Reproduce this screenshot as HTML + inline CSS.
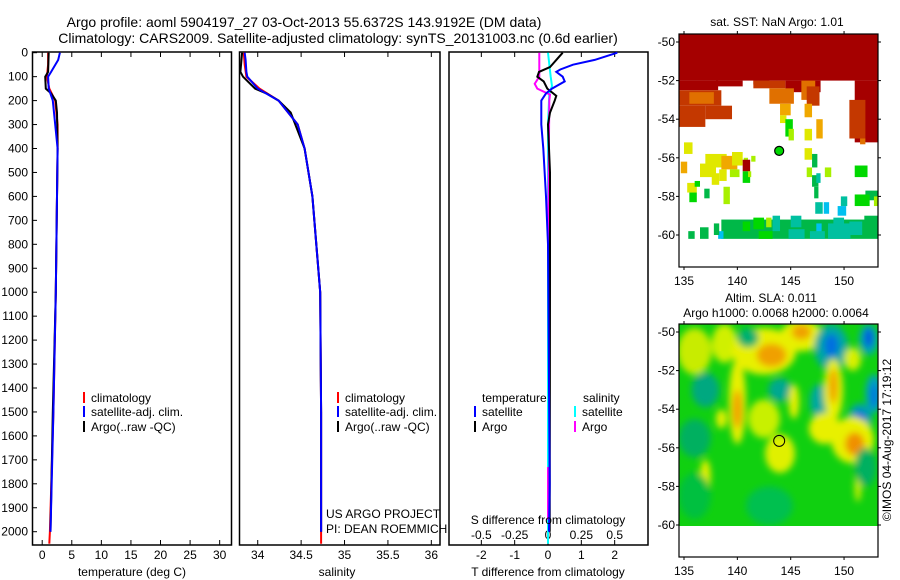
<!DOCTYPE html>
<html><head><meta charset="utf-8">
<style>
html,body{margin:0;padding:0;background:#fff;}
svg{display:block;font-family:"Liberation Sans",sans-serif;font-size:12px;}
</style></head>
<body>
<svg id="c" width="900" height="580" viewBox="0 0 900 580" xmlns="http://www.w3.org/2000/svg">
<defs>
<filter id="blur" x="-50%" y="-50%" width="200%" height="200%"><feGaussianBlur stdDeviation="3.5"/></filter>
<clipPath id="slaClip"><rect x="679" y="324" width="199" height="202"/></clipPath>
</defs>
<text x="304" y="27" text-anchor="middle" style="font-size:14px">Argo profile: aoml 5904197_27 03-Oct-2013 55.6372S 143.9192E (DM data)</text>
<text x="338" y="43" text-anchor="middle" style="font-size:14px">Climatology: CARS2009. Satellite-adjusted climatology: synTS_20131003.nc (0.6d earlier)</text>
<g id="panels"></g>
<g id="maps"></g>
<text transform="translate(891,440) rotate(-90)" text-anchor="middle">©IMOS 04-Aug-2017 17:19:12</text>
</svg>
<script>
// ---------- profile data ----------
const depthTicks = [0,100,200,300,400,500,600,700,800,900,1000,1100,1200,1300,1400,1500,1600,1700,1800,1900,2000];
const tTicks = [0,5,10,15,20,25,30];
const sTicks = [34,34.5,35,35.5,36];
const dTTicks = [-2,-1,0,1,2];
const dSTicks = [-0.5,-0.25,0,0.25,0.5];
const dSTickLabels = ["-0.5","-0.25","0","0.25","0.5"];

const climDepth = [0,50,100,150,200,300,400,600,1000,1500,2000,2050];
const climTemp  = [1.0,1.0,0.8,1.2,2.2,2.6,2.6,2.5,2.3,1.9,1.3,1.2];
const climSal   = [33.84,33.85,33.87,34.02,34.24,34.46,34.54,34.63,34.72,34.73,34.73,34.73];

const argoDepth = [0,80,100,150,170,200,250,400,600,1000,1500,2000];
const argoTemp  = [1.1,1.0,0.5,0.6,1.5,2.3,2.5,2.6,2.5,2.3,1.8,1.4];
const argoSal   = [33.82,33.80,33.83,33.97,34.10,34.24,34.38,34.54,34.63,34.72,34.73,34.73];

const satDepth = [0,30,80,100,150,200,300,400,600,1000,1500,2000];
const satTemp  = [3.0,2.7,1.5,1.0,1.1,1.8,2.2,2.6,2.5,2.3,1.9,1.4];
const satSal   = [33.85,33.86,33.87,33.88,34.0,34.24,34.46,34.54,34.63,34.72,34.73,34.73];

const dTsatDepth = [0,30,50,70,80,100,120,150,170,200,300,400,600,800,1800,2000];
const dTsat      = [2.08,1.4,0.75,0.37,0.25,0.44,0.5,0.12,-0.06,-0.2,-0.2,-0.14,-0.06,0,0.05,0.03];
const dTargoDepth = [0,30,60,80,100,120,150,180,200,250,300,500,900,2000];
const dTargo      = [0.44,0.25,0.06,-0.27,-0.32,-0.13,-0.02,0.25,0.2,0.06,0,0.06,0.06,0.05];
const dSsatDepth = [0,100,140,170,300,2050];
const dSsat      = [0,0.02,0.03,0.01,0,0];
const dSargoDepth = [0,100,130,150,175,200,820];
const dSargo      = [-0.065,-0.065,-0.1,-0.08,0.015,0.01,0];
const dSargoDepth2 = [1730,1950];
const dSargo2      = [0,0];

// ---------- helpers ----------
const NS="http://www.w3.org/2000/svg";
function mk(tag,attrs,parent){const e=document.createElementNS(NS,tag);for(const k in attrs)e.setAttribute(k,attrs[k]);parent.appendChild(e);return e;}
const yD = d => 52.7 + 0.2395*d;
const P = document.getElementById('panels');

function panel(name,x0,x1,vmin,vmax){
  const g=mk('g',{},P);
  
  
  const r=mk('rect',{x:x0,y:52,width:x1-x0,height:493,fill:'none',stroke:'#000','stroke-width':1.5},g);
  
  
  return {g, sx:v=>x0+(v-vmin)/(vmax-vmin)*(x1-x0)};
}
function line(p,vals,depths,color,name){
  const pts=vals.map((v,i)=>p.sx(v).toFixed(1)+','+yD(depths[i]).toFixed(1)).join(' ');
  const l=mk('polyline',{points:pts,fill:'none',stroke:color,'stroke-width':2},p.g);
  
  
}
function xticks(p,ticks,labels,ylab){
  ticks.forEach((t,i)=>{
    const x=p.sx(t);
    mk('line',{x1:x,y1:52,x2:x,y2:57,stroke:'#000'},p.g);
    mk('line',{x1:x,y1:545,x2:x,y2:540,stroke:'#000'},p.g);
    const tx=mk('text',{x:x,y:ylab,'text-anchor':'middle'},p.g);
    tx.textContent=labels?labels[i]:String(t);
    
    
  });
}
function legendItem(g,x,y,color,label){
  if(color) mk('line',{x1:x,y1:y-10,x2:x,y2:y+1,stroke:color,'stroke-width':2},g);
  const t=mk('text',{x:color?x+7:x,y:y},g);
  t.textContent=label;
  
  
}
function txt(g,x,y,s,anchor,name){const t=mk('text',{x:x,y:y,'text-anchor':anchor||'start'},g);t.textContent=s;return t;}

// panel 1 temperature
const p1=panel('temperature-panel',32.5,231.5,-1.64,32);
depthTicks.forEach(d=>{
  const y=yD(d);
  mk('line',{x1:32.5,y1:y,x2:37,y2:y,stroke:'#000'},p1.g);
  const t=mk('text',{x:28,y:y+4,'text-anchor':'end'},p1.g);
  t.textContent=String(d);
  
  
});
xticks(p1,tTicks,null,559);
line(p1,climTemp,climDepth,'#f00','temp-climatology-line');
line(p1,argoTemp,argoDepth,'#000','temp-argo-line');
line(p1,satTemp,satDepth,'#00f','temp-satellite-line');
legendItem(p1.g,84,402,'#f00','climatology');
legendItem(p1.g,84,416,'#00f','satellite-adj. clim.');
legendItem(p1.g,84,431,'#000','Argo(..raw -QC)');
txt(p1.g,132,576,'temperature (deg C)','middle','x-axis-title-temperature');

// panel 2 salinity
const p2=panel('salinity-panel',239.5,440,33.79,36.1);
xticks(p2,sTicks,null,559);
line(p2,climSal,climDepth,'#f00','sal-climatology-line');
line(p2,argoSal,argoDepth,'#000','sal-argo-line');
line(p2,satSal,satDepth,'#00f','sal-satellite-line');
legendItem(p2.g,338,402,'#f00','climatology');
legendItem(p2.g,338,416,'#00f','satellite-adj. clim.');
legendItem(p2.g,338,431,'#000','Argo(..raw -QC)');
txt(p2.g,326,518,'US ARGO PROJECT','start','credit-project');
txt(p2.g,326,533,'PI: DEAN ROEMMICH','start','credit-pi');
txt(p2.g,337,576,'salinity','middle','x-axis-title-salinity');

// panel 3 differences
const p3=panel('difference-panel',449,648,-2.97,3);
const p3s={g:p3.g,sx:v=>p3.sx(v*4)};
xticks(p3,dTTicks,null,559);
dSTicks.forEach((t,i)=>{
  const tx=mk('text',{x:p3s.sx(t),y:539,'text-anchor':'middle'},p3.g);
  tx.textContent=dSTickLabels[i];
  
  
});
line(p3s,dSsat,dSsatDepth,'#0ff','sdiff-satellite-line');
line(p3s,dSargo,dSargoDepth,'#f0f','sdiff-argo-line');
line(p3s,dSargo2,dSargoDepth2,'#f0f','sdiff-argo-line-deep');
line(p3,dTargo,dTargoDepth,'#000','tdiff-argo-line');
line(p3,dTsat,dTsatDepth,'#00f','tdiff-satellite-line');
legendItem(p3.g,482,402,null,'temperature');
legendItem(p3.g,583,402,null,'salinity');
legendItem(p3.g,475,416,'#00f','satellite');
legendItem(p3.g,475,431,'#000','Argo');
legendItem(p3.g,575,416,'#0ff','satellite');
legendItem(p3.g,575,431,'#f0f','Argo');
txt(p3.g,548,524,'S difference from climatology','middle','s-diff-axis-title');
txt(p3.g,548,576,'T difference from climatology','middle','t-diff-axis-title');

// ---------- maps ----------
const lonTicks=[135,140,145,150];
const latTicks=[-50,-52,-54,-56,-58,-60];
const argoLon=143.92, argoLat=-55.64;
const colors={R:'#a50000',Q:'#c43800',O:'#e07000',A:'#f0a800',Y:'#e0e800',L:'#a8f000',G:'#00d800',M:'#00b848',T:'#00c0a0',C:'#00c0f0'};
// SST cells: [lon0, lat0(top), lon1, lat1(bottom), color]
const sstCells=[
 [134.5,-49.6,153.2,-52,'R'],[134.5,-52,138.2,-52.5,'R'],[151,-52,153.2,-55.2,'R'],
 [138,-52,140.5,-52.3,'R'],[144.5,-52,147.8,-52.6,'R'],[141.5,-52,143,-52.2,'R'],
 [134.5,-52.5,138.5,-53.3,'Q'],[134.5,-53.3,137,-54.4,'Q'],[137,-53.3,139.5,-54,'Q'],
 [135.5,-52.6,137.8,-53.2,'O'],[141.5,-52,144.5,-52.4,'Q'],[143,-52.4,145.3,-53.2,'O'],
 [146,-52,147.3,-53,'O'],[146.5,-52.3,147.7,-53.3,'Q'],[150.5,-53,152,-55,'Q'],
 [144,-53.2,145,-53.8,'A'],[146.3,-53.2,147,-53.9,'A'],[147.4,-54,148,-55,'A'],
 [144,-53.8,144.6,-54.2,'Y'],[144.5,-54,145.2,-54.9,'G'],[144.8,-54.5,145.3,-55.1,'L'],
 [146.3,-54.5,147,-55.1,'Y'],[151.5,-55,152,-55.3,'O'],
 [135,-55.2,135.8,-55.8,'Y'],[134.7,-56.2,135.3,-56.8,'A'],
 [137,-55.8,139,-56.5,'Y'],[136.5,-56.3,138,-57,'Y'],[138.5,-55.9,140,-56.6,'A'],
 [139.5,-55.7,140.5,-56.4,'Y'],[140.6,-56,141,-56.4,'L'],[140.5,-56.1,141.2,-56.7,'R'],
 [141.3,-55.9,141.7,-56.2,'L'],[139.3,-56.6,140.2,-57,'L'],[138.3,-56.6,139,-57.2,'Y'],
 [137.6,-56.8,138.3,-57.4,'Y'],[140.5,-56.7,141.2,-57.3,'G'],[141,-56.7,141.3,-57,'L'],
 [135.3,-57.3,136.2,-57.8,'Y'],[136,-57.2,136.5,-57.5,'G'],[135.5,-57.8,136.2,-58.3,'G'],
 [136.9,-57.6,137.4,-58.1,'M'],[138.7,-57.5,139.3,-58.4,'L'],
 [146.3,-55.5,147,-56.1,'Y'],[147,-55.8,147.5,-56.5,'M'],[146.5,-56.5,147,-57,'L'],
 [148.2,-56.5,148.8,-57,'L'],[147,-56.9,147.6,-57.5,'M'],[147.2,-57.5,147.6,-58.1,'M'],
 [147.4,-56.8,147.8,-57.3,'T'],[151,-56.4,152.2,-57,'G'],[152,-57.7,153.2,-58.2,'M'],
 [151,-57.9,152.4,-58.5,'G'],[149.7,-58,150.3,-58.5,'T'],[152.8,-58,153.2,-58.5,'L'],
 [147.3,-58.3,148,-58.9,'T'],[148.1,-58.3,148.6,-58.9,'C'],[149.4,-58.5,150.2,-59,'C'],
 [138.5,-59.2,153.2,-60.2,'M'],[140.5,-59.3,141.2,-59.8,'G'],[141.5,-59.1,142.5,-59.7,'G'],
 [142.7,-59.1,143.2,-59.6,'L'],[143.3,-59,144,-59.8,'T'],[145,-59,146,-59.6,'T'],
 [142,-59.8,143.3,-60.2,'G'],[147.4,-59.4,147.9,-60,'C'],[148.5,-59.4,150.6,-60.2,'T'],
 [149,-59.1,150,-59.6,'T'],[150.5,-59.3,151.7,-60,'T'],[138.2,-59.8,138.7,-60.2,'C'],
 [144.8,-59.7,146.3,-60.2,'T'],[146.8,-59.8,148.2,-60.2,'T'],
 [135.4,-59.8,136,-60.2,'M'],[136.5,-59.6,137.3,-60.2,'M'],[137.8,-59.4,138.3,-60,'M'],
 [151.9,-59,153.2,-59.5,'M'],[152.6,-59.5,153.2,-60,'M']
];
// SLA blobs: [lon, lat, rxDeg, ryDeg, color]
const slaBlobs=[
 [136,-51,1.6,1.2,'#c8ec00'],[138.8,-50.6,1.2,1,'#d0f000'],[142.5,-51,3,1.2,'#e8f000'],
 [143.2,-51.2,1.4,0.6,'#f0a000'],[146,-50.2,2,0.8,'#e8f000'],[146,-50,0.9,0.4,'#f0a000'],
 [141,-50.3,1,0.5,'#00b070'],[148.8,-50.8,1.6,1.2,'#00a8a0'],[148.8,-50.7,0.7,0.6,'#0070e0'],
 [152.3,-50.4,0.9,0.8,'#00a8b0'],[152.3,-50.3,0.4,0.5,'#0050e0'],[150.8,-51.4,0.8,0.6,'#d8f000'],
 [137,-53,1.3,0.9,'#00a880'],[140,-53.6,0.8,2.2,'#e8f000'],[140,-54,0.45,1,'#f0a000'],
 [144,-53,1.1,0.6,'#00a890'],[145.3,-53.6,0.5,0.9,'#e8f000'],[147.7,-53.6,0.9,0.9,'#00a8a0'],
 [149,-53,0.9,1.6,'#e8f000'],[149,-52.8,0.4,0.9,'#f0a000'],[152.8,-53.2,0.8,1,'#00a0c0'],
 [152.8,-53.3,0.3,0.6,'#0070e0'],[151.5,-54.5,1.1,0.8,'#00a0b0'],[151.5,-54.5,0.5,0.4,'#0060e0'],
 [148.2,-55,1.5,0.8,'#e8f000'],[150.8,-55.6,2,1.2,'#e8f000'],[151,-55.8,0.9,0.6,'#f09000'],
 [136,-55.5,1.5,1,'#00b060'],[138.5,-54.5,0.5,0.5,'#e8f000'],[142.5,-54.5,1.5,1,'#c8f000'],
 [144,-56.3,1.4,1,'#e0f000'],[137,-57.5,0.5,0.9,'#e8f000'],[151.3,-58,0.3,0.8,'#d8f000'],
 [143,-59,2.2,1,'#00c050'],[136,-58.5,1.5,1.2,'#00c040'],[152,-57,1,1,'#00b060']
];
const M=document.getElementById('maps');
function mapAxes(name,top){
  const g=mk('g',{},M);
  
  
  const sx=lon=>684+(lon-135)*10.67, sy=lat=>top+8+(-50-lat)*19.3;
  return {g,sx,sy,top};
}
function mapFrame(m){
  const {g,sx,sy,top}=m;
  const r=mk('rect',{x:679,y:top,width:199,height:233,fill:'none',stroke:'#000','stroke-width':1.2},g);
  
  
  lonTicks.forEach(l=>{
    const x=sx(l);
    mk('line',{x1:x,y1:top,x2:x,y2:top-3,stroke:'#000'},g);
    mk('line',{x1:x,y1:top+233,x2:x,y2:top+236,stroke:'#000'},g);
    const t=mk('text',{x:x,y:top+251,'text-anchor':'middle'},g);
    t.textContent=String(l);
    
    
  });
  latTicks.forEach(l=>{
    const y=sy(l);
    mk('line',{x1:679,y1:y,x2:676,y2:y,stroke:'#000'},g);
    mk('line',{x1:878,y1:y,x2:881,y2:y,stroke:'#000'},g);
    const t=mk('text',{x:675,y:y+4,'text-anchor':'end'},g);
    t.textContent=String(l);
    
    
  });
}
// SST map
const sst=mapAxes('sst-map',34);
sstCells.forEach(c=>{
  const x0=sst.sx(c[0]),x1=sst.sx(c[2]),y0=sst.sy(c[1]),y1=sst.sy(c[3]);
  const r=mk('rect',{x:Math.max(679,x0),y:Math.max(34,y0),width:Math.min(878,x1)-Math.max(679,x0),height:y1-Math.max(34,y0),fill:colors[c[4]]},sst.g);
  
  
});
const am=mk('circle',{cx:sst.sx(argoLon),cy:sst.sy(argoLat),r:4.5,fill:'#00d800',stroke:'#000','stroke-width':1.2},sst.g);


mapFrame(sst);
txt(sst.g,777,26,'sat. SST: NaN Argo: 1.01','middle','sst-map-title');

// SLA map
const sla=mapAxes('sla-map',324);
const bg=mk('g',{'clip-path':'url(#slaClip)'},sla.g);
mk('rect',{x:679,y:324,width:199,height:202,fill:'#10d010'},bg);
const bl=mk('g',{filter:'url(#blur)'},bg);
slaBlobs.forEach(b=>{
  const e=mk('ellipse',{cx:sla.sx(b[0]),cy:sla.sy(b[1]),rx:b[2]*10.67,ry:b[3]*19.3,fill:b[4]},bl);
  
  
});
const am2=mk('circle',{cx:sla.sx(argoLon),cy:sla.sy(argoLat),r:5.5,fill:'none',stroke:'#000','stroke-width':1},sla.g);


mapFrame(sla);
txt(sla.g,771,302,'Altim. SLA: 0.011','middle','sla-map-title');
txt(sla.g,776,317,'Argo h1000: 0.0068 h2000: 0.0064','middle','sla-map-subtitle');
</script>
</body></html>
